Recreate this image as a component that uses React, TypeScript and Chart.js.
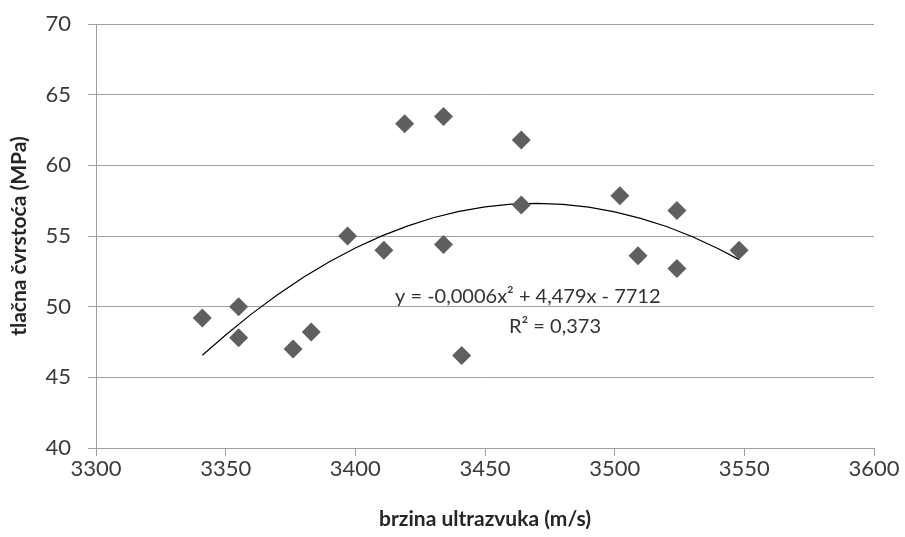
import React, { useEffect, useRef } from "react";
import { Chart, registerables } from "chart.js";

Chart.register(...registerables);

// Measured points (ultrasound velocity m/s, compressive strength MPa)
const velocity = [3341, 3355, 3355, 3376, 3383, 3397, 3411, 3419, 3434, 3434, 3441, 3464, 3464, 3502, 3509, 3524, 3524, 3548];
const strength = [49.2, 50.0, 47.8, 47.0, 48.2, 55.0, 54.0, 62.95, 63.45, 54.4, 46.55, 61.8, 57.2, 57.85, 53.6, 56.8, 52.7, 54.0];

// Polynomial trendline
const trendX = [3341, 3350, 3360, 3370, 3380, 3390, 3400, 3410, 3420, 3430, 3440, 3450, 3460, 3470, 3480, 3490, 3500, 3510, 3520, 3530, 3540, 3548];
const trendY = [46.56, 48.0, 49.49, 50.85, 52.08, 53.18, 54.15, 54.99, 55.7, 56.29, 56.74, 57.06, 57.25, 57.31, 57.24, 57.04, 56.71, 56.25, 55.67, 54.95, 54.1, 53.33];

const equationText = "y = -0,0006x² + 4,479x - 7712";
const r2Text = "R² = 0,373";
const xTitle = "brzina ultrazvuka (m/s)";
const yTitle = "tlačna čvrstoća (MPa)";

const FONT = "Lato, 'Open Sans', sans-serif";

export default function App() {
  const ref = useRef<HTMLCanvasElement | null>(null);

  useEffect(() => {
    document.body.style.margin = "0";
    const canvas = ref.current;
    if (!canvas) return;

    const labelPlugin = {
      id: "eqLabel",
      afterDatasetsDraw(chart: any) {
        const { ctx, scales } = chart;
        const xs = scales.x;
        const ys = scales.y;
        ctx.save();
        ctx.font = `20px ${FONT}`;
        ctx.fillStyle = "#333333";
        ctx.textAlign = "center";
        ctx.textBaseline = "middle";
        ctx.fillText(equationText, xs.getPixelForValue(3466.5), ys.getPixelForValue(50.7));
        ctx.fillText(r2Text, xs.getPixelForValue(3477), ys.getPixelForValue(48.6));
        ctx.restore();
      },
    };

    const chart = new Chart(canvas, {
      type: "scatter",
      data: {
        datasets: [
          {
            label: "trend",
            data: trendX.map((x, i) => ({ x, y: trendY[i] })),
            showLine: true,
            borderColor: "#000000",
            borderWidth: 1.2,
            pointRadius: 0,
            tension: 0,
            fill: false,
            order: 2,
          },
          {
            label: "points",
            data: velocity.map((x, i) => ({ x, y: strength[i] })),
            pointStyle: "rectRot",
            pointRadius: 9.5,
            backgroundColor: "#5f5f5f",
            borderColor: "#5f5f5f",
            borderWidth: 0,
            order: 1,
          },
        ],
      },
      options: {
        responsive: false,
        animation: false,
        events: [],
        layout: { padding: { top: 24, right: 31, left: 0, bottom: 0 } },
        plugins: {
          legend: { display: false },
          tooltip: { enabled: false },
        },
        scales: {
          x: {
            type: "linear",
            min: 3300,
            max: 3600,
            ticks: {
              stepSize: 50,
              padding: 0,
              color: "#3a3a3a",
              font: { family: FONT, size: 22 },
              callback: (v: any) => String(v),
            },
            grid: {
              drawOnChartArea: false,
              drawTicks: true,
              tickLength: 8,
              color: "#a0a0a0",
            },
            border: { color: "#a0a0a0", width: 1 },
            title: {
              display: true,
              text: xTitle,
              color: "#262626",
              font: { family: FONT, size: 21, weight: "bold" },
              padding: { top: 0, bottom: 5 },
            },
            afterFit: (scale: any) => {
              scale.height = 89;
              scale.paddingLeft = 0;
              scale.paddingRight = 0;
            },
          },
          y: {
            type: "linear",
            min: 40,
            max: 70,
            ticks: {
              stepSize: 5,
              padding: 17,
              color: "#3a3a3a",
              font: { family: FONT, size: 22 },
            },
            grid: {
              drawOnChartArea: true,
              drawTicks: true,
              tickLength: 8,
              color: "#a0a0a0",
            },
            border: { color: "#a0a0a0", width: 1 },
            title: {
              display: true,
              text: yTitle,
              color: "#262626",
              font: { family: FONT, size: 21, weight: "bold" },
              padding: { top: 7, bottom: 0 },
            },
            afterFit: (scale: any) => {
              scale.width = 96;
              scale.paddingTop = 0;
              scale.paddingBottom = 0;
            },
          },
        },
      },
      plugins: [labelPlugin],
    });

    return () => {
      chart.destroy();
    };
  }, []);

  return (
    <div style={{ width: 905, height: 537, background: "#ffffff" }}>
      <canvas ref={ref} width={905} height={537} style={{ display: "block" }} />
    </div>
  );
}
